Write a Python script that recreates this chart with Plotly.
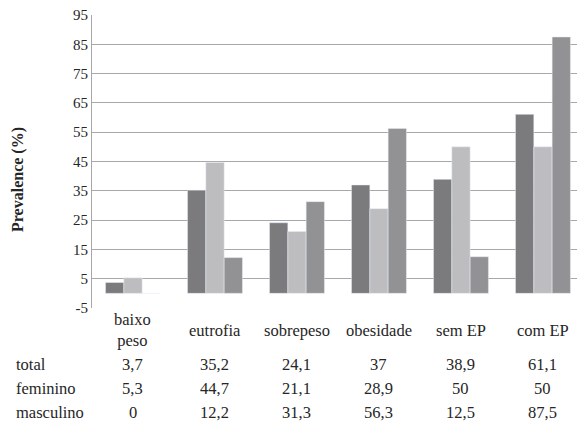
import plotly.graph_objects as go

# Data
categories = ["baixo<br>peso", "eutrofia", "sobrepeso", "obesidade", "sem EP", "com EP"]
series_names = ["total", "feminino", "masculino"]
total = [3.7, 35.2, 24.1, 37, 38.9, 61.1]
feminino = [5.3, 44.7, 21.1, 28.9, 50, 50]
masculino = [0, 12.2, 31.3, 56.3, 12.5, 87.5]
tick_values = [-5, 5, 15, 25, 35, 45, 55, 65, 75, 85, 95]
tick_labels = ["-5", "5", "15", "25", "35", "45", "55", "65", "75", "85", "95"]

series_values = [total, feminino, masculino]
series_colors = ["#7b7b7d", "#bdbdbf", "#929294"]

W, H = 577, 425
ML, MR, MT, MB = 92, 0, 15, 117
PW, PH = W - ML - MR, H - MT - MB
X_RANGE = [-0.5, 5.415]
FONT = "Liberation Serif"
TEXT = "#262626"
GRID = "#a8a8a8"
TABLE_SIZE = 16.5


def px_x(px):
    return (px - ML) / PW


def px_y(py):
    return (H - MB - py) / PH


def cat_x(v):
    return (v - X_RANGE[0]) / (X_RANGE[1] - X_RANGE[0])


def fmt(v):
    return f"{v:g}".replace(".", ",")


xs = list(range(len(categories)))
fig = go.Figure()
for name, vals, col in zip(series_names, series_values, series_colors):
    fig.add_trace(go.Bar(x=xs, y=vals, name=name, marker_color=col))

annotations = []

header_top, header_bot = 308.5, 351.5
row_edges = [351.5, 376.5, 400.5, 425]

for i, c in enumerate(categories):
    annotations.append(dict(xref="paper", yref="paper", x=cat_x(i),
                            y=px_y((header_top + header_bot) / 2), text=c,
                            showarrow=False,
                            font=dict(family=FONT, size=TABLE_SIZE, color=TEXT),
                            xanchor="center", yanchor="middle"))

for r, (name, vals, col) in enumerate(zip(series_names, series_values, series_colors)):
    yc = (row_edges[r] + row_edges[r + 1]) / 2
    annotations.append(dict(xref="paper", yref="paper", x=px_x(14), y=px_y(yc),
                            text=name, showarrow=False, xanchor="left", yanchor="middle",
                            font=dict(family=FONT, size=TABLE_SIZE, color=TEXT)))
    for i, v in enumerate(vals):
        annotations.append(dict(xref="paper", yref="paper", x=cat_x(i), y=px_y(yc),
                                text=fmt(v), showarrow=False, xanchor="center",
                                yanchor="middle",
                                font=dict(family=FONT, size=TABLE_SIZE, color=TEXT)))

annotations.append(dict(xref="paper", yref="paper", x=px_x(18), y=px_y(180),
                        text="<b>Prevalence (%)</b>", textangle=-90, showarrow=False,
                        xanchor="center", yanchor="middle",
                        font=dict(family=FONT, size=16, color=TEXT)))

fig.update_layout(
    width=W, height=H,
    margin=dict(l=ML, r=MR, t=MT, b=MB, pad=0),
    paper_bgcolor="white", plot_bgcolor="white",
    barmode="group", bargap=0.33, bargroupgap=0,
    showlegend=False,
    annotations=annotations,
    xaxis=dict(range=X_RANGE, showticklabels=False, showgrid=False,
               zeroline=False, showline=False, ticks=""),
    yaxis=dict(range=[-5, 95], tickvals=tick_values, ticktext=tick_labels,
               showgrid=True, gridcolor=GRID, gridwidth=1, zeroline=False,
               showline=True, linecolor=GRID, linewidth=1, ticks="",
               tickfont=dict(family=FONT, size=15, color=TEXT)),
)

fig.write_html("out.html")
